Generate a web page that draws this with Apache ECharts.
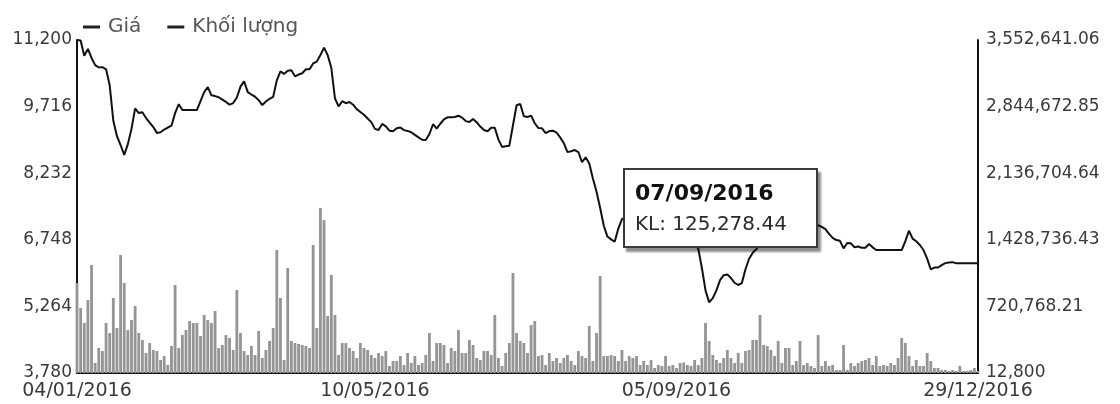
<!DOCTYPE html>
<html>
<head>
<meta charset="utf-8">
<script src="https://cdn.jsdelivr.net/npm/echarts@6/dist/echarts.min.js"></script>
<style>
html,body{margin:0;padding:0;background:#fff;}
#chart{width:1120px;height:404px;}
</style>
</head>
<body>
<div id="chart"></div>
<script>
// ---- data ----
const seriesNames = ['Giá', 'Khối lượng'];
const xTickLabels = ['04/01/2016', '10/05/2016', '05/09/2016', '29/12/2016'];
const leftTickLabels = ['3,780', '5,264', '6,748', '8,232', '9,716', '11,200'];
const rightTickLabels = ['12,800', '720,768.21', '1,428,736.43', '2,136,704.64', '2,844,672.85', '3,552,641.06'];
const tradingStart = '2016-01-04';
const tradingEnd = '2016-12-29';
const holidays = ['2016-02-05','2016-02-08','2016-02-09','2016-02-10','2016-02-11','2016-02-12',
                  '2016-04-18','2016-05-02','2016-05-03','2016-09-02'];
const tooltipDate = '07/09/2016';

const prices = [11200,11190,10850,11000,10800,10640,10590,10594,10548,10190,
9400,9057,8860,8640,8880,9220,9675,9572,9590,9460,
9360,9260,9130,9145,9205,9250,9290,9570,9770,9640,
9640,9640,9640,9640,9840,10040,10150,9968,9950,9924,
9873,9820,9760,9795,9920,10160,10280,10040,9985,9936,
9860,9751,9830,9890,9935,10300,10500,10445,10515,10525,
10390,10430,10460,10548,10550,10677,10718,10865,11030,10863,
10580,9900,9720,9836,9792,9818,9758,9660,9597,9533,
9450,9370,9220,9194,9330,9274,9180,9166,9235,9250,
9192,9174,9146,9085,9032,8978,8971,9105,9323,9224,
9334,9431,9477,9477,9485,9512,9470,9393,9371,9440,
9368,9272,9193,9166,9245,9243,8980,8818,8832,8846,
9300,9745,9773,9500,9484,9515,9345,9237,9233,9126,
9170,9179,9136,9030,8900,8702,8721,8748,8704,8476,
8585,8450,8115,7820,7458,7062,6820,6758,6705,6999,
7210,7250,7300,7318,7307,7293,7290,7290,7290,7240,
7190,7142,7106,7070,7032,6990,6950,6905,6853,6803,
6690,6550,6120,5620,5354,5447,5622,5850,5960,5977,
5896,5791,5741,5784,6092,6326,6461,6540,6660,6710,
6750,6790,6810,6830,6853,6870,6890,6906,6925,6942,
6966,7000,7040,7060,7072,7035,6985,6880,6790,6743,
6725,6557,6677,6670,6581,6600,6570,6570,6655,6580,
6520,6520,6520,6520,6520,6520,6520,6520,6720,6950,
6775,6715,6633,6520,6330,6090,6130,6131,6185,6228,
6243,6250,6223,6223,6223,6223,6223,6223,6223];

const volumes = [969500,703750,544300,788790,1160840,119100,278550,246660,544300,438000,
810050,491150,1267140,969500,469890,576190,725010,438000,363590,225400,
331700,257290,246660,150990,193510,97840,299810,948240,278550,416740,
469890,565560,544300,544300,406110,629340,576190,544300,671860,278550,
310440,416740,384850,257290,895090,438000,246660,204140,299810,204140,
459260,172250,257290,352960,491150,1320290,810050,150990,1128950,352960,
331700,321070,310440,299810,278550,1373440,491150,1766750,1639190,618710,
1054540,629340,204140,331700,331700,278550,246660,172250,331700,278550,
257290,204140,172250,225400,193510,246660,87210,140360,140360,193510,
97840,225400,119100,193510,97840,119100,204140,438000,140360,331700,
331700,310440,119100,278550,246660,469890,225400,225400,363590,310440,
172250,150990,246660,246660,204140,629340,172250,87210,225400,331700,
1075800,438000,352960,331700,225400,523040,565560,193510,204140,97840,
225400,140360,172250,119100,172250,204140,140360,97840,246660,193510,
172250,512410,140360,438000,1043910,193510,193510,204140,193510,140360,
257290,140360,193510,172250,193510,97840,140360,97840,150990,65950,
97840,87210,193510,87210,97840,65950,119100,125278.44,97840,87210,
150990,97840,172250,544300,352960,204140,150990,119100,172250,257290,
172250,119100,225400,119100,246660,257290,363590,363590,629340,310440,
299810,257290,193510,352960,119100,278550,278550,97840,140360,352960,
97840,119100,87210,65950,416740,87210,140360,87210,97840,44690,
44690,310440,44690,119100,87210,119100,140360,150990,172250,97840,
193510,87210,97840,87210,119100,97840,172250,384850,331700,193510,
87210,150990,87210,87210,225400,140360,65950,65950,44690,44690,
34060,44690,34060,87210,34060,34060,44690,65950,34060];

// trading-day calendar (weekdays minus exchange holidays)
const dates = [];
(function () {
  const s = new Date(tradingStart + 'T00:00:00Z').getTime();
  const e = new Date(tradingEnd + 'T00:00:00Z').getTime();
  for (let t = s; t <= e; t += 86400000) {
    const d = new Date(t);
    const wd = d.getUTCDay();
    if (wd === 0 || wd === 6) continue;
    const iso = d.toISOString().slice(0, 10);
    if (holidays.indexOf(iso) >= 0) continue;
    dates.push(iso.slice(8, 10) + '/' + iso.slice(5, 7) + '/' + iso.slice(0, 4));
  }
})();

const FONT = "'DejaVu Sans', Verdana, sans-serif";
const chart = echarts.init(document.getElementById('chart'), null, {renderer: 'canvas'});

chart.setOption({
  animation: false,
  backgroundColor: '#ffffff',
  grid: {left: 77, right: 142, top: 40, bottom: 31, containLabel: false},
  legend: {
    left: 78, top: 12,
    icon: 'rect', itemWidth: 17, itemHeight: 3, itemGap: 26,
    selectedMode: false,
    textStyle: {fontFamily: FONT, fontSize: 20, color: '#555', padding: [0, 0, 0, 3]},
    data: [
      {name: seriesNames[0], itemStyle: {color: '#222'}},
      {name: seriesNames[1], itemStyle: {color: '#222'}}
    ]
  },
  tooltip: {
    trigger: 'item',
    triggerOn: 'none',
    alwaysShowContent: true,
    transitionDuration: 0,
    showDelay: 0,
    position: [623, 168],
    backgroundColor: '#ffffff',
    borderColor: '#3a3a3a',
    borderWidth: 2,
    padding: [8, 10],
    extraCssText: 'box-shadow: 3px 4px 2px rgba(0,0,0,0.45); border-radius: 0; width: 171px; height: 60px; box-sizing: content-box;',
    formatter: function (p) {
      const v = Number(p.value).toLocaleString('en-US', {minimumFractionDigits: 2, maximumFractionDigits: 2});
      return '<div style="font-family:' + FONT.replace(/'/g, '') + ';font-weight:bold;font-size:22px;line-height:30px;color:#111">' + dates[p.dataIndex] + '</div>' +
             '<div style="font-family:' + FONT.replace(/'/g, '') + ';font-size:20px;line-height:30px;color:#2a2a2a">KL: ' + v + '</div>';
    }
  },
  xAxis: {
    type: 'category',
    data: dates,
    boundaryGap: false,
    axisLine: {show: true, lineStyle: {color: '#111', width: 2}},
    axisTick: {show: false},
    splitLine: {show: false},
    axisLabel: {
      interval: function (idx, val) { return xTickLabels.indexOf(val) >= 0; },
      showMinLabel: true, showMaxLabel: true,
      fontFamily: FONT, fontSize: 19, color: '#3a3a3a', margin: 9,
      hideOverlap: false
    }
  },
  yAxis: [
    {
      type: 'value', min: 3780, max: 11200, interval: 1484,
      axisLine: {show: true, lineStyle: {color: '#111', width: 2}},
      axisTick: {show: false},
      splitLine: {show: false},
      axisLabel: {
        fontFamily: FONT, fontSize: 17, color: '#3a3a3a', margin: 5,
        formatter: function (v, i) { return leftTickLabels[i]; }
      }
    },
    {
      type: 'value', min: 12800, max: 3552641.06, interval: (3552641.06 - 12800) / 5,
      position: 'right',
      axisLine: {show: true, lineStyle: {color: '#111', width: 2}},
      axisTick: {show: false},
      splitLine: {show: false},
      axisLabel: {
        fontFamily: FONT, fontSize: 17, color: '#3a3a3a', margin: 8,
        formatter: function (v, i) { return rightTickLabels[i]; }
      }
    }
  ],
  series: [
    {
      name: seriesNames[0], type: 'line', yAxisIndex: 0,
      data: prices, symbol: 'none', z: 5,
      lineStyle: {color: '#111', width: 2},
      itemStyle: {color: '#111'}
    },
    {
      name: seriesNames[1], type: 'bar', yAxisIndex: 1,
      data: volumes, barCategoryGap: '22%', z: 2,
      itemStyle: {color: '#959595'}
    }
  ]
});

chart.dispatchAction({type: 'showTip', seriesIndex: 1, dataIndex: dates.indexOf(tooltipDate)});
</script>
</body>
</html>
